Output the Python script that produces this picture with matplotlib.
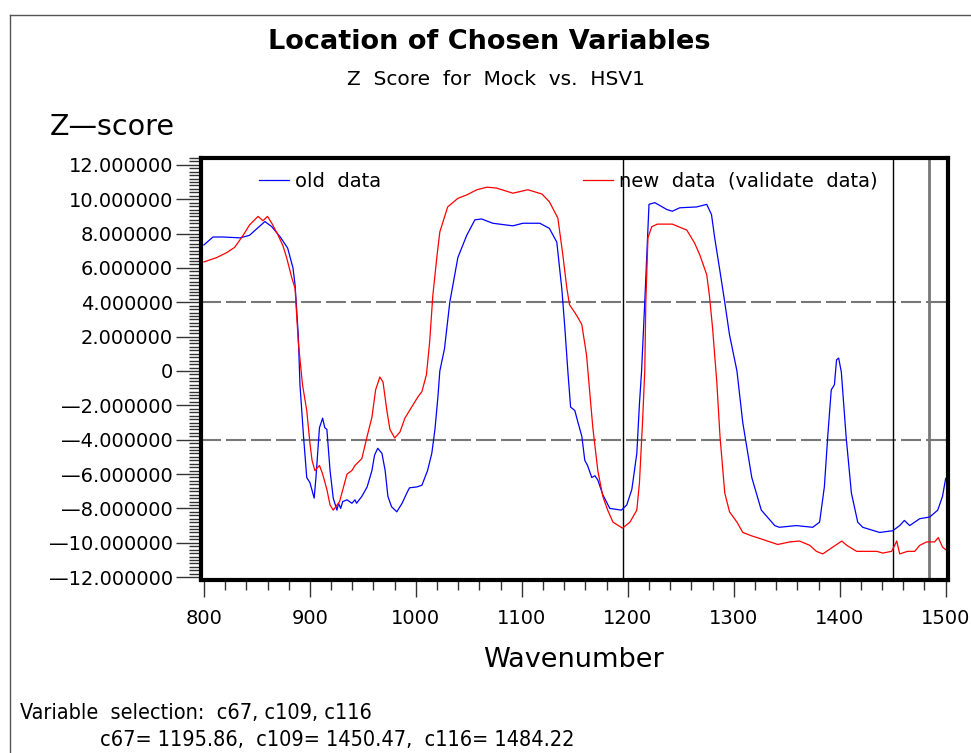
import numpy as np
import matplotlib
matplotlib.use("Agg")
import matplotlib.pyplot as plt
from matplotlib.ticker import MultipleLocator, FuncFormatter
from matplotlib.lines import Line2D

plt.rcParams['font.family'] = ['DejaVu Sans']

# old data (blue)
old_x = [800, 808.5, 818, 834, 843, 857.5, 864, 872, 879, 884, 886, 889, 890.6,
         894, 897, 900, 904, 905.7, 909, 912, 914, 916, 919, 922, 925.5, 927, 929,
         931, 935, 939.6, 942.5, 944, 949, 954, 958.5, 961, 964, 968, 971, 973.6,
         977, 982, 987, 991.5, 994, 1001, 1005.7, 1011, 1015, 1018, 1020.8, 1022.6,
         1027, 1032, 1039.6, 1048, 1055.7, 1062, 1072.6, 1091.5, 1101, 1117, 1126,
         1133, 1137.7, 1140.6, 1143.4, 1146, 1150, 1153, 1156.6, 1159.4, 1162, 1166,
         1169, 1171.7, 1176.4, 1183, 1194, 1199, 1203.8, 1208.5, 1211, 1213, 1216,
         1220, 1225.5, 1236.8, 1242, 1249, 1265, 1274.5, 1279, 1282, 1287, 1291.5,
         1296, 1300, 1303, 1308.5, 1317, 1326, 1338.7, 1343, 1359, 1374.5, 1381,
         1385.5, 1388.7, 1392, 1395, 1397, 1399, 1401.5, 1406, 1411, 1417, 1421.7,
         1437.7, 1450, 1456.6, 1461, 1466, 1475.5, 1485, 1492.5, 1497, 1500]
old_z = [7.34, 7.8, 7.8, 7.75, 7.9, 8.7, 8.4, 7.8, 7.15, 6.0, 5.0, 2.1, -0.8,
         -3.84, -6.2, -6.5, -7.4, -6.2, -3.3, -2.75, -3.3, -3.4, -5.8, -7.4, -8.1, -7.7, -8.0,
         -7.6, -7.5, -7.7, -7.5, -7.7, -7.3, -6.75, -5.8, -4.9, -4.5, -4.8, -5.8, -7.3,
         -7.9, -8.2, -7.7, -7.1, -6.8, -6.75, -6.65, -5.8, -4.8, -3.4, -1.5, 0.0,
         1.3, 4.0, 6.6, 7.9, 8.8, 8.85, 8.6, 8.45, 8.6, 8.6, 8.3,
         7.5, 4.8, 2.5, 0.0, -2.1, -2.3, -3.0, -3.8, -5.2, -5.5, -6.2,
         -6.1, -6.35, -7.2, -8.0, -8.1, -7.8, -6.9, -4.8, -1.9, 0.0, 4.0,
         9.7, 9.8, 9.4, 9.3, 9.5, 9.55, 9.7, 9.1, 7.75, 5.8, 4.0,
         2.1, 0.9, 0.0, -3.0, -6.2, -8.1, -9.0, -9.1, -9.0, -9.1, -8.8,
         -6.75, -3.8, -1.1, -0.8, 0.65, 0.75, -0.05, -3.8, -7.1, -8.8, -9.1,
         -9.4, -9.3, -9.0, -8.7, -9.0, -8.6, -8.5, -8.1, -7.3, -6.25]

# new data (validate data, red)
new_x = [800, 812, 821.7, 829, 837, 843, 851, 855.7, 860, 864, 870, 874.5, 878, 883,
         886, 889, 893, 897, 900, 902, 904.7, 909, 912, 916, 919, 922, 928, 935,
         939.6, 942.5, 949, 954, 958.5, 962, 966, 969, 972.6, 975.5, 980, 985,
         989.6, 996, 1002, 1005.7, 1010, 1013, 1016, 1020, 1022.6, 1030, 1039.6,
         1048, 1057.5, 1067, 1076, 1091.5, 1105.7, 1119, 1126, 1134, 1138.7,
         1142.5, 1145, 1150, 1153, 1156.6, 1161, 1167, 1171.7, 1176.4, 1181, 1186,
         1195, 1202, 1208.5, 1211, 1214, 1216, 1217, 1219, 1222.6, 1228, 1242,
         1255.7, 1263, 1268, 1274.5, 1277, 1280, 1284, 1287, 1291.5, 1296, 1303,
         1308.5, 1317, 1327, 1341.5, 1353, 1362, 1371.7, 1378, 1384, 1393.5, 1402,
         1406.6, 1416, 1421.7, 1435, 1440.6, 1449, 1453.8, 1456.6, 1464, 1470.8,
         1475.5, 1482, 1489.6, 1493, 1497, 1500]
new_z = [6.35, 6.6, 6.9, 7.2, 7.9, 8.5, 9.0, 8.75, 9.0, 8.6, 7.9, 7.3, 6.6, 5.4,
         4.8, 1.7, -0.8, -2.3, -4.2, -5.2, -5.8, -5.5, -6.0, -6.9, -7.8, -8.1, -7.6, -6.0,
         -5.8, -5.5, -5.1, -3.8, -2.7, -1.1, -0.35, -0.65, -2.3, -3.4, -3.9, -3.55,
         -2.75, -2.1, -1.5, -1.2, -0.2, 1.7, 4.4, 6.75, 8.1, 9.55, 10.05,
         10.25, 10.55, 10.7, 10.65, 10.35, 10.55, 10.3, 9.85, 8.9, 6.75,
         4.8, 3.85, 3.4, 3.1, 2.7, 0.95, -3.3, -5.8, -7.3, -8.1, -8.8,
         -9.15, -8.8, -8.1, -6.5, -2.85, 0.0, 4.0, 7.75, 8.4, 8.55, 8.55,
         8.2, 7.45, 6.75, 5.6, 4.4, 2.5, -0.65, -3.8, -7.1, -8.2, -8.8,
         -9.4, -9.6, -9.8, -10.1, -9.95, -9.9, -10.15, -10.5, -10.65, -10.25, -9.9,
         -10.15, -10.5, -10.5, -10.5, -10.6, -10.5, -9.9, -10.65, -10.5, -10.5,
         -10.15, -9.95, -9.95, -9.7, -10.25, -10.4]

cutoffs = [-4, 4]
chosen = [1195.86, 1450.47, 1484.22]
chosen_names = ["c67", "c109", "c116"]
chosen_colors = ["black", "black", "#777777"]
chosen_lw = [1.0, 1.0, 2.0]


def zfmt(v, pos):
    if abs(v) < 1e-9:
        return "0"
    s = "{:.6f}".format(abs(v))
    return ("\u2014" if v < 0 else "") + s


fig = plt.figure(figsize=(9.71, 7.53), dpi=100)
ax = fig.add_axes([0.207, 0.2297, 0.769, 0.5605])

for c in cutoffs:
    ax.axhline(c, color="#777777", lw=1.5, dashes=(9.6, 2.4), zorder=1)
for xv, col, lw in zip(chosen, chosen_colors, chosen_lw):
    ax.axvline(xv, color=col, lw=lw, zorder=1)

l1, = ax.plot(old_x, old_z, color="blue", lw=0.9, label="old  data")
l2, = ax.plot(new_x, new_z, color="red", lw=0.9, label="new  data  (validate  data)")

ax.set_xlim(797.2, 1501.9)
ax.set_ylim(-12.17, 12.4)

ax.xaxis.set_major_locator(MultipleLocator(100))
ax.xaxis.set_minor_locator(MultipleLocator(20))
ax.yaxis.set_major_locator(MultipleLocator(2))
ax.yaxis.set_minor_locator(MultipleLocator(0.2))
ax.yaxis.set_major_formatter(FuncFormatter(zfmt))

for s in ax.spines.values():
    s.set_linewidth(3)
ax.tick_params(axis="x", which="major", direction="out", length=12, width=1,
               color="#333333", labelsize=14, pad=9)
ax.tick_params(axis="x", which="minor", direction="out", length=7.5, width=1,
               color="#333333")
ax.tick_params(axis="y", which="major", direction="out", length=18, width=1,
               color="#333333", labelsize=14, pad=2)
ax.tick_params(axis="y", which="minor", direction="out", length=8.5, width=1,
               color="#333333")

leg = ax.legend(handles=[l1, l2], loc="center left", bbox_to_anchor=(0.078, 0.945),
                ncol=2, frameon=False, fontsize=14, handlelength=1.55,
                handletextpad=0.3, columnspacing=10.35, borderpad=0, borderaxespad=0)

fig.text(0.504, 0.944, "Location of Chosen Variables", ha="center", va="center",
         fontsize=19.5, fontweight="bold")
fig.text(0.511, 0.894, "Z  Score  for  Mock  vs.  HSV1", ha="center", va="center",
         fontsize=14.5)
fig.text(0.051, 0.831, "Z\u2014score", ha="left", va="center", fontsize=20.5)
fig.text(0.591, 0.123, "Wavenumber", ha="center", va="center", fontsize=19.5)

sel = ", ".join(chosen_names)
vals = ",  ".join("{}= {:.2f}".format(n, v) for n, v in zip(chosen_names, chosen))
fig.text(0.021, 0.053, "Variable  selection:  " + sel, ha="left", va="center",
         fontsize=15.5, fontstretch="condensed")
fig.text(0.103, 0.017, vals, ha="left", va="center", fontsize=15.5,
         fontstretch="condensed")

# outer frame lines (top and left)
fig.add_artist(Line2D([10 / 971, 10 / 971], [0, 1 - 15 / 753], color="#555555", lw=1))
fig.add_artist(Line2D([10 / 971, 1], [1 - 15 / 753, 1 - 15 / 753], color="#555555", lw=1))

fig.savefig("out.png", dpi=100)
